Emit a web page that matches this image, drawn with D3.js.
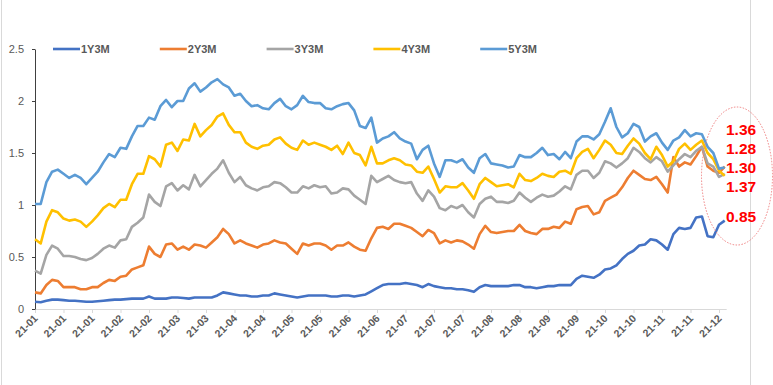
<!DOCTYPE html>
<html lang="en">
<head>
    <meta charset="UTF-8">
    <title>Chart</title>
    <script src="https://d3js.org/d3.v7.min.js"></script>
    <style>
        html, body {
            margin: 0;
            padding: 0;
            background: #fff;
        }
        svg text {
            font-family: "Liberation Sans", Arial, sans-serif;
        }
    </style>
</head>
<body>
    <script>
        'use strict'

        // series values, one point per two trading days
        const y1 = [0.07, 0.065, 0.08, 0.09, 0.09, 0.085, 0.08, 0.08, 0.075, 0.07, 0.07, 0.075, 0.08, 0.085, 0.09, 0.09, 0.095, 0.10, 0.10, 0.10, 0.12,
            0.10, 0.10, 0.10, 0.11, 0.11, 0.105, 0.10, 0.11, 0.11, 0.11, 0.11, 0.13, 0.16, 0.15, 0.14, 0.13, 0.13, 0.12, 0.12, 0.13,
            0.13, 0.15, 0.14, 0.13, 0.12, 0.11, 0.12, 0.13, 0.13, 0.13, 0.13, 0.12, 0.12, 0.13, 0.13, 0.12, 0.13, 0.14, 0.17, 0.20,
            0.23, 0.24, 0.24, 0.24, 0.25, 0.24, 0.23, 0.21, 0.24, 0.22, 0.21, 0.20, 0.20, 0.19, 0.19, 0.18, 0.165, 0.21, 0.23, 0.22,
            0.22, 0.22, 0.22, 0.23, 0.23, 0.21, 0.21, 0.20, 0.21, 0.22, 0.22, 0.23, 0.23, 0.23, 0.29, 0.32, 0.31, 0.30, 0.33, 0.38,
            0.39, 0.42, 0.48, 0.53, 0.56, 0.61, 0.62, 0.67, 0.66, 0.62, 0.57, 0.72, 0.78, 0.77, 0.78, 0.88, 0.89, 0.70, 0.69, 0.81, 0.85]

        const y2 = [0.16, 0.15, 0.23, 0.28, 0.27, 0.21, 0.21, 0.21, 0.19, 0.19, 0.21, 0.21, 0.25, 0.28, 0.27, 0.31, 0.32, 0.38, 0.40, 0.42, 0.60,
            0.53, 0.50, 0.62, 0.63, 0.57, 0.60, 0.57, 0.62, 0.61, 0.59, 0.64, 0.69, 0.77, 0.72, 0.63, 0.66, 0.63, 0.61, 0.59, 0.62,
            0.63, 0.66, 0.64, 0.63, 0.58, 0.53, 0.63, 0.61, 0.63, 0.63, 0.61, 0.57, 0.61, 0.61, 0.64, 0.60, 0.57, 0.56, 0.68, 0.78,
            0.79, 0.77, 0.82, 0.82, 0.80, 0.78, 0.74, 0.70, 0.76, 0.73, 0.63, 0.66, 0.64, 0.66, 0.65, 0.62, 0.58, 0.72, 0.80, 0.74,
            0.73, 0.74, 0.75, 0.75, 0.81, 0.75, 0.73, 0.72, 0.77, 0.77, 0.79, 0.78, 0.84, 0.82, 0.96, 0.98, 0.99, 0.91, 0.93, 1.04,
            1.07, 1.10, 1.17, 1.26, 1.33, 1.29, 1.25, 1.24, 1.27, 1.20, 1.12, 1.46, 1.37, 1.41, 1.39, 1.47, 1.56, 1.37, 1.33, 1.31, 1.37]

        const y3 = [0.37, 0.34, 0.52, 0.61, 0.58, 0.51, 0.51, 0.50, 0.48, 0.47, 0.49, 0.53, 0.58, 0.61, 0.59, 0.66, 0.67, 0.79, 0.83, 0.88, 1.10,
            1.03, 0.99, 1.18, 1.21, 1.14, 1.19, 1.15, 1.29, 1.18, 1.24, 1.30, 1.35, 1.43, 1.31, 1.22, 1.27, 1.19, 1.16, 1.14, 1.17,
            1.18, 1.22, 1.21, 1.17, 1.12, 1.12, 1.18, 1.16, 1.19, 1.17, 1.18, 1.11, 1.12, 1.16, 1.15, 1.09, 1.05, 1.01, 1.28, 1.22,
            1.25, 1.28, 1.24, 1.22, 1.21, 1.22, 1.11, 1.04, 1.14, 1.08, 0.97, 0.95, 0.99, 0.97, 1.00, 0.93, 0.88, 1.01, 1.06, 1.08,
            1.03, 1.03, 1.02, 1.04, 1.12, 1.07, 1.03, 1.07, 1.10, 1.08, 1.09, 1.13, 1.18, 1.15, 1.29, 1.33, 1.33, 1.26, 1.31, 1.42,
            1.40, 1.36, 1.40, 1.45, 1.55, 1.51, 1.45, 1.41, 1.46, 1.42, 1.32, 1.38, 1.44, 1.49, 1.46, 1.52, 1.56, 1.40, 1.37, 1.27, 1.30]

        const y4 = [0.67, 0.63, 0.84, 0.95, 0.93, 0.87, 0.85, 0.86, 0.84, 0.79, 0.84, 0.90, 0.97, 1.01, 0.98, 1.05, 1.05, 1.20, 1.30, 1.30, 1.47,
            1.44, 1.37, 1.58, 1.60, 1.52, 1.63, 1.62, 1.78, 1.66, 1.72, 1.77, 1.85, 1.88, 1.77, 1.70, 1.70, 1.60, 1.56, 1.54, 1.57,
            1.58, 1.63, 1.65, 1.59, 1.55, 1.53, 1.62, 1.58, 1.60, 1.58, 1.56, 1.53, 1.57, 1.49, 1.60, 1.50, 1.48, 1.38, 1.56, 1.40,
            1.40, 1.43, 1.45, 1.43, 1.39, 1.38, 1.32, 1.31, 1.37, 1.25, 1.12, 1.18, 1.17, 1.17, 1.21, 1.14, 1.06, 1.20, 1.26, 1.22,
            1.18, 1.19, 1.20, 1.17, 1.30, 1.24, 1.23, 1.26, 1.30, 1.28, 1.27, 1.32, 1.33, 1.30, 1.45, 1.51, 1.54, 1.45, 1.53, 1.62,
            1.58, 1.50, 1.49, 1.57, 1.64, 1.59, 1.50, 1.44, 1.56, 1.48, 1.37, 1.42, 1.54, 1.59, 1.53, 1.58, 1.62, 1.50, 1.44, 1.33, 1.28]

        const y5 = [1.01, 1.01, 1.22, 1.32, 1.34, 1.30, 1.26, 1.29, 1.26, 1.20, 1.26, 1.32, 1.41, 1.49, 1.46, 1.55, 1.54, 1.66, 1.76, 1.76, 1.84,
            1.82, 1.95, 2.01, 1.94, 2.00, 2.00, 2.12, 2.17, 2.09, 2.13, 2.18, 2.21, 2.16, 2.13, 2.05, 2.07, 2.00, 1.95, 1.96, 1.93,
            1.92, 1.98, 2.02, 1.95, 1.92, 1.96, 2.05, 1.99, 1.98, 1.98, 1.93, 1.92, 1.95, 1.97, 1.98, 1.91, 1.76, 1.74, 1.84, 1.60,
            1.64, 1.66, 1.70, 1.64, 1.61, 1.59, 1.44, 1.53, 1.57, 1.40, 1.27, 1.43, 1.43, 1.41, 1.44, 1.36, 1.31, 1.45, 1.49, 1.40,
            1.39, 1.38, 1.36, 1.37, 1.48, 1.46, 1.46, 1.50, 1.55, 1.48, 1.49, 1.44, 1.51, 1.45, 1.61, 1.66, 1.66, 1.63, 1.68, 1.80,
            1.93, 1.75, 1.65, 1.69, 1.78, 1.75, 1.61, 1.66, 1.69, 1.60, 1.53, 1.62, 1.65, 1.72, 1.66, 1.69, 1.68, 1.56, 1.50, 1.35, 1.36]

        const seriesNames = ['1Y3M', '2Y3M', '3Y3M', '4Y3M', '5Y3M']
        const tickLabels = ['21-01', '21-01', '21-01', '21-02', '21-02', '21-03', '21-03', '21-04', '21-04', '21-05', '21-05',
            '21-06', '21-06', '21-07', '21-07', '21-07', '21-08', '21-08', '21-09', '21-09', '21-10', '21-10', '21-11', '21-11', '21-12']
        const yTicks = [0, 0.5, 1, 1.5, 2, 2.5]
        const endLabels = ['1.36', '1.28', '1.30', '1.37', '0.85']

        const colors = ['#4472C4', '#ED7D31', '#A5A5A5', '#FFC000', '#5B9BD5']
        const series = [y1, y2, y3, y4, y5]

        const width = 773
        const height = 385

        const svg = d3.select('body')
            .append('svg')
            .attr('width', width)
            .attr('height', height)

        // chart area frame (left/right edges only visible)
        svg.append('line')
            .attr('x1', 1.5).attr('x2', 1.5).attr('y1', 0).attr('y2', height)
            .attr('stroke', '#d9d9d9')
        svg.append('line')
            .attr('x1', 750.5).attr('x2', 750.5).attr('y1', 0).attr('y2', height)
            .attr('stroke', '#d9d9d9')

        const x = d3.scaleLinear()
            .domain([0, 120])
            .range([35, 719])

        const y = d3.scaleLinear()
            .domain([0, 2.5])
            .range([309, 49])

        // x axis
        const xAxis = d3.axisBottom(x)
            .tickValues(d3.range(0, 121, 5))
            .tickFormat(d => tickLabels[d / 5])
            .tickSize(4)
            .tickSizeOuter(0)

        const gx = svg.append('g')
            .attr('transform', 'translate(0, 309)')
            .call(xAxis)

        gx.select('.domain')
            .attr('d', `M35,0.5H${x(series[0].length - 1) + 2}`)
            .attr('stroke', '#d9d9d9')
        gx.selectAll('.tick line').attr('stroke', '#d9d9d9')
        gx.selectAll('.tick text')
            .attr('fill', '#595959')
            .style('font-size', '10.5px')
            .style('font-weight', 'bold')
            .attr('text-anchor', 'end')
            .attr('dy', null)
            .attr('y', 0)
            .attr('transform', 'translate(3, 10) rotate(-45)')

        // y axis
        const yAxis = d3.axisLeft(y)
            .tickValues(yTicks)
            .tickFormat(d => d)
            .tickSize(3)
            .tickSizeOuter(0)

        const gy = svg.append('g')
            .attr('transform', 'translate(35, 0)')
            .call(yAxis)

        gy.select('.domain').attr('stroke', '#404040')
        gy.selectAll('.tick line').attr('stroke', '#404040')
        gy.selectAll('.tick text')
            .attr('fill', '#595959')
            .attr('x', -11)
            .style('font-size', '11px')

        // lines
        const line = d3.line()
            .x((d, i) => x(i))
            .y(d => y(d))

        series.forEach((s, k) => {
            svg.append('path')
                .datum(s)
                .attr('fill', 'none')
                .attr('stroke', colors[k])
                .attr('stroke-width', 2.6)
                .attr('stroke-linejoin', 'round')
                .attr('d', line)
        })

        // legend
        const legend = svg.append('g')
        seriesNames.forEach((name, k) => {
            const lx = 53 + k * 106.8
            legend.append('line')
                .attr('x1', lx).attr('x2', lx + 27)
                .attr('y1', 49).attr('y2', 49)
                .attr('stroke', colors[k])
                .attr('stroke-width', 2.6)
            legend.append('text')
                .text(name)
                .attr('x', lx + 28)
                .attr('y', 53)
                .attr('fill', '#595959')
                .style('font-size', '11px')
                .style('font-weight', 'bold')
        })

        // annotation
        svg.append('ellipse')
            .attr('cx', 737)
            .attr('cy', 176)
            .attr('rx', 35.5)
            .attr('ry', 69)
            .attr('fill', 'none')
            .attr('stroke', '#f08080')
            .attr('stroke-width', 1)
            .attr('stroke-dasharray', '1.5,1.5')

        const labelY = [135, 154, 173, 192, 222]
        endLabels.forEach((t, k) => {
            svg.append('text')
                .text(t)
                .attr('x', 726)
                .attr('y', labelY[k])
                .attr('fill', '#ff0000')
                .style('font-size', '15.5px')
                .style('font-weight', 'bold')
        })
    </script>
</body>
</html>
